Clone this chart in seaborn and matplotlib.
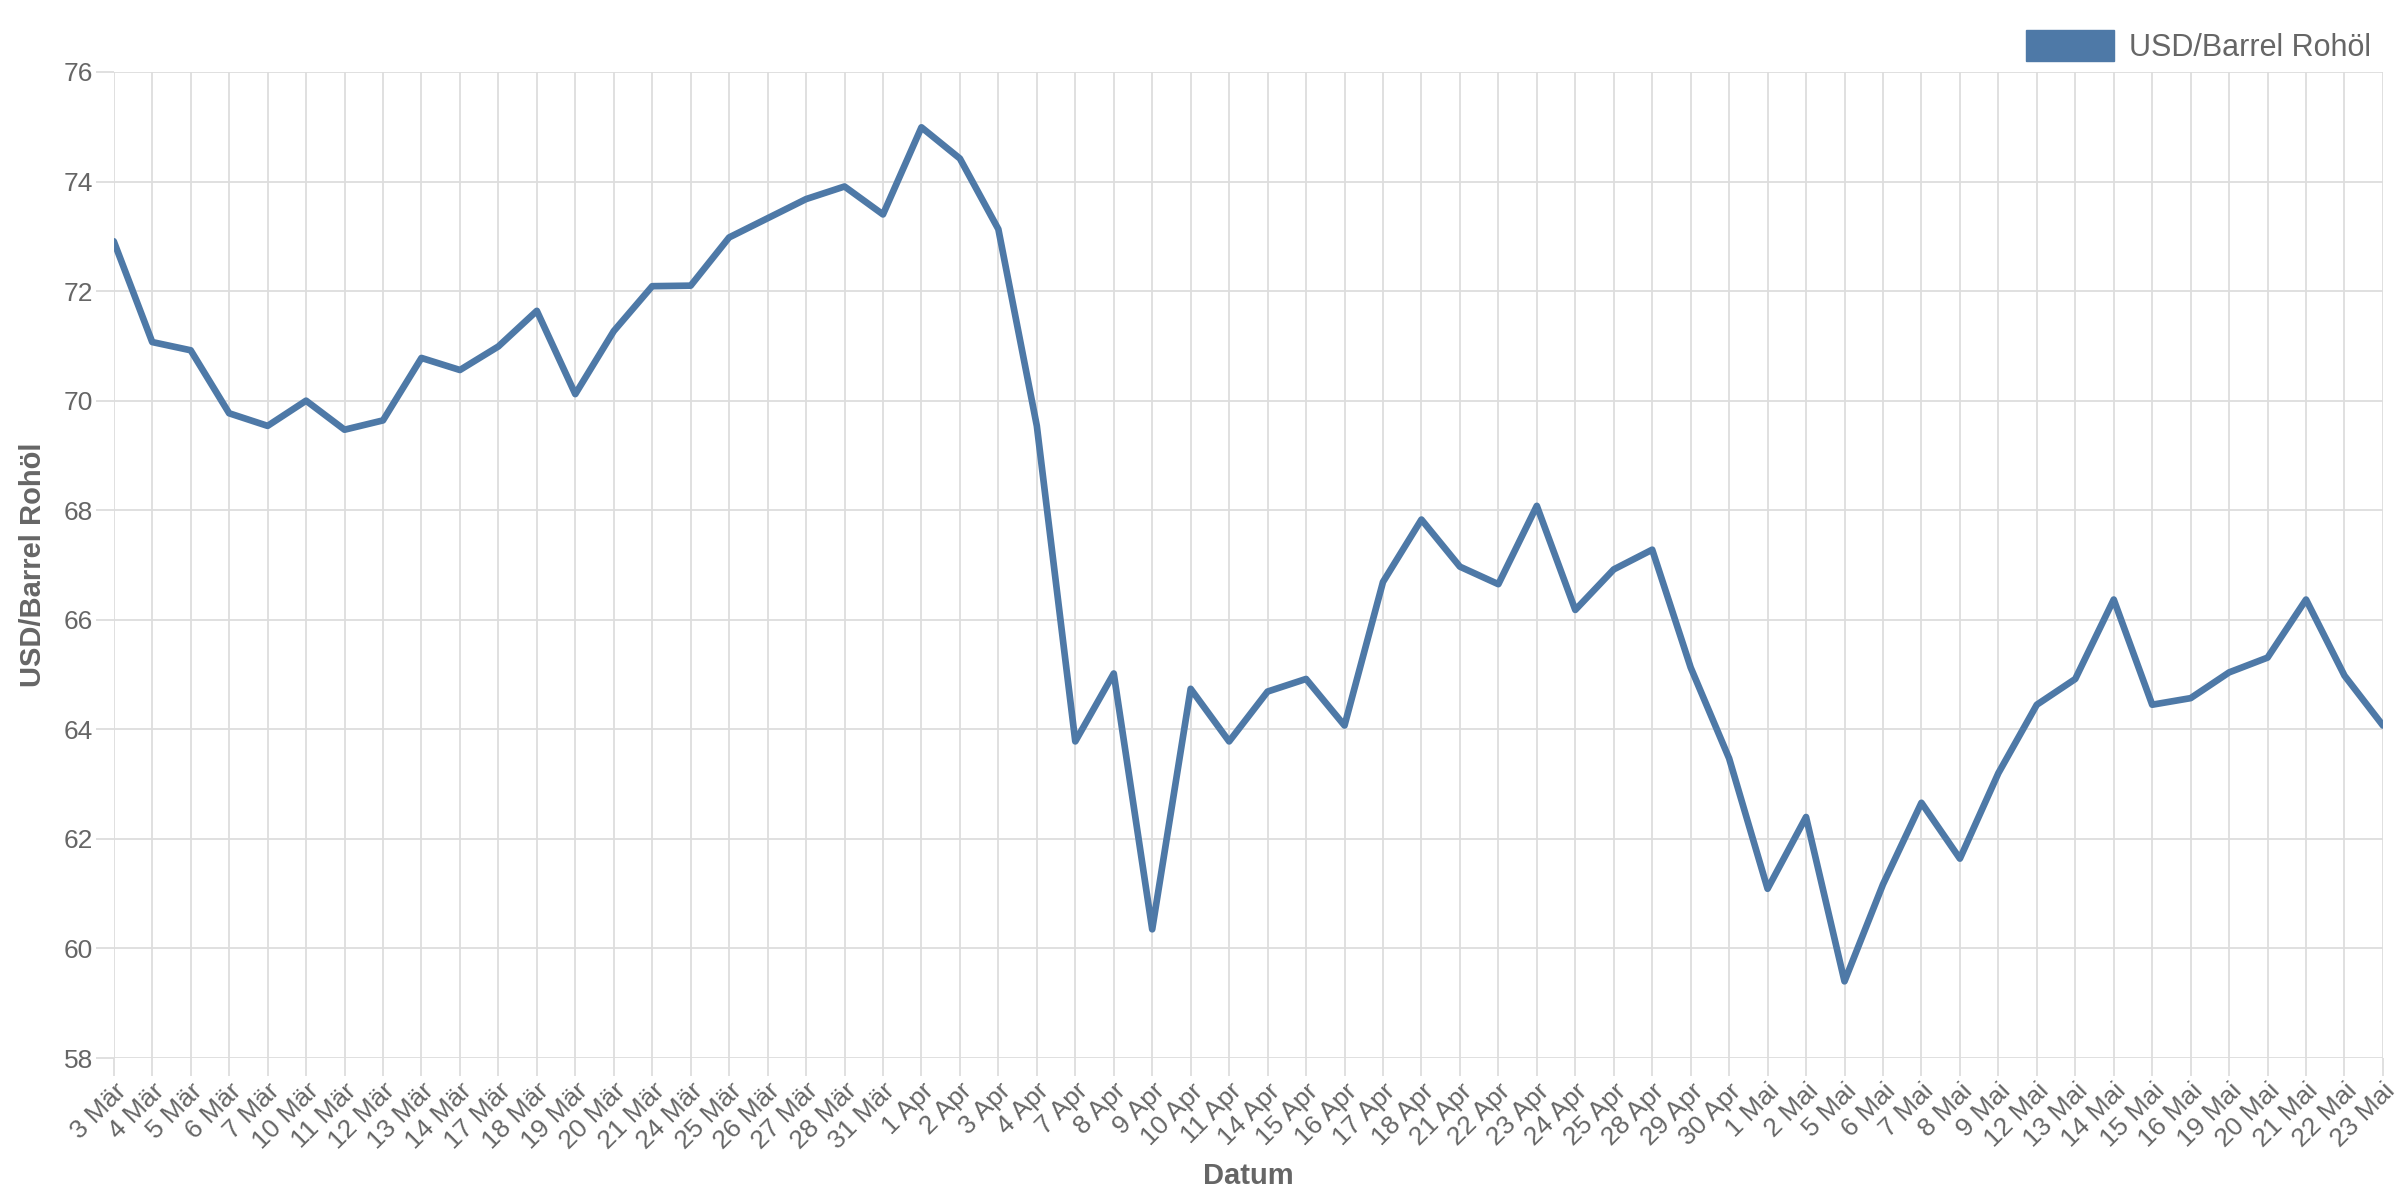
import numpy as np
import pandas as pd
import matplotlib.pyplot as plt
from matplotlib.patches import Patch
import seaborn as sns

###############
# Data
###############
dates = ['3 Mär', '4 Mär', '5 Mär', '6 Mär', '7 Mär', '10 Mär', '11 Mär', '12 Mär', '13 Mär', '14 Mär',
         '17 Mär', '18 Mär', '19 Mär', '20 Mär', '21 Mär', '24 Mär', '25 Mär', '26 Mär', '27 Mär', '28 Mär',
         '31 Mär', '1 Apr', '2 Apr', '3 Apr', '4 Apr', '7 Apr', '8 Apr', '9 Apr', '10 Apr', '11 Apr',
         '14 Apr', '15 Apr', '16 Apr', '17 Apr', '18 Apr', '21 Apr', '22 Apr', '23 Apr', '24 Apr', '25 Apr',
         '28 Apr', '29 Apr', '30 Apr', '1 Mai', '2 Mai', '5 Mai', '6 Mai', '7 Mai', '8 Mai', '9 Mai',
         '12 Mai', '13 Mai', '14 Mai', '15 Mai', '16 Mai', '19 Mai', '20 Mai', '21 Mai', '22 Mai', '23 Mai']

price_maerz = [72.91, 71.07, 70.92, 69.77, 69.54, 70.0, 69.47, 69.64, 70.78, 70.56,
               70.99, 71.64, 70.12, 71.27, 72.09, 72.10, 72.98, 73.33, 73.68, 73.91, 73.40]
price_april = [74.99, 74.42, 73.13, 69.54, 63.78, 65.02, 60.35, 64.74, 63.78,
               64.69, 64.92, 64.07, 66.69, 67.83, 66.97, 66.65, 68.08, 66.18, 66.92,
               67.28, 65.13, 63.47]
price_mai = [61.09, 62.40, 59.40, 61.17, 62.66, 61.64, 63.20,
             64.45, 64.92, 66.37, 64.45, 64.57, 65.04, 65.31, 66.37, 64.98, 64.07]

series_name = 'USD/Barrel Rohöl'
y_ticks = [58, 60, 62, 64, 66, 68, 70, 72, 74, 76]

###############
# Plot
###############
line_color = '#4e79a7'
text_color = '#666666'
grid_color = '#dddddd'

sns.set_theme(style='whitegrid')
plt.rcParams['font.family'] = ['Liberation Sans', 'DejaVu Sans']

df = pd.DataFrame({'Datum': dates, 'preis': price_maerz + price_april + price_mai})

fig = plt.figure(figsize=(24, 12), dpi=100)
ax = fig.add_axes([0.0474, 0.1183, 0.9455, 0.8217])

sns.lineplot(ax=ax, data=df, x='Datum', y='preis', sort=False, color=line_color, linewidth=4.8)

ax.set_xlim(0, len(dates) - 1)
ax.set_ylim(58, 76)
ax.set_yticks(y_ticks)
ax.set_xticks(range(len(dates)))
ax.set_xticklabels(dates, rotation=45, ha='right', rotation_mode='anchor')

ax.grid(True, color=grid_color, linewidth=1.3)
for s in ax.spines.values():
    s.set_visible(False)
# chart.js style: grid lines run on past the axis as ticks
ax.tick_params(axis='both', which='both', length=13, width=1.3, color=grid_color,
               labelsize=19, labelcolor=text_color, pad=2)
ax.tick_params(axis='x', bottom=True)
ax.tick_params(axis='y', left=True)

ax.set_xlabel('Datum', fontsize=21, fontweight='bold', color=text_color, labelpad=6)
ax.set_ylabel(series_name, fontsize=21, fontweight='bold', color=text_color, labelpad=12)

handle = Patch(facecolor=line_color, edgecolor=line_color)
fig.legend([handle], [series_name], loc='upper right', bbox_to_anchor=(0.997, 0.993),
           frameon=False, fontsize=22, handlelength=2.9, handleheight=1.2,
           handletextpad=0.5, borderpad=0.2, labelcolor=text_color)

plt.savefig('out.png', dpi=100)
